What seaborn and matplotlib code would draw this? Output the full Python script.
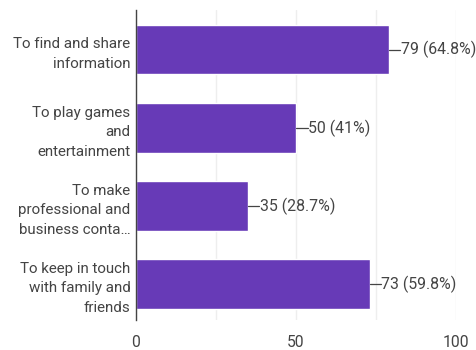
import matplotlib
matplotlib.use("Agg")
import matplotlib.pyplot as plt
import seaborn as sns
import pandas as pd

categories = [
    "To find and share\ninformation",
    "To play games\nand\nentertainment",
    "To make\nprofessional and\nbusiness conta\u2026",
    "To keep in touch\nwith family and\nfriends",
]
counts = [79, 50, 35, 73]
labels = ["79 (64.8%)", "50 (41%)", "35 (28.7%)", "73 (59.8%)"]
xticks = [0, 50, 100]

df = pd.DataFrame({"category": categories, "count": counts})

sns.set_theme(style="white")
plt.rcParams["font.family"] = ["Roboto", "DejaVu Sans"]

fig = plt.figure(figsize=(4.77, 3.5), dpi=100)
ax = fig.add_axes([0.285, 0.0857, 0.671, 0.8857])

sns.barplot(data=df, x="count", y="category", color="#673AB7", saturation=1,
            width=0.63, ax=ax, orient="h")

ax.set_xlim(0, 100)
ax.set_ylim(3.46, -0.51)
ax.set_xticks(xticks)
ax.set_xticks([25, 75], minor=True)
ax.grid(axis="x", which="both", color="#eeeeee", linewidth=1)
ax.set_axisbelow(True)
for s in ["top", "right", "bottom"]:
    ax.spines[s].set_visible(False)
ax.spines["left"].set_color("#444444")
ax.spines["left"].set_linewidth(1.0)
ax.set_xlabel("")
ax.set_ylabel("")
ax.tick_params(axis="both", length=0, labelcolor="#444444")
ax.tick_params(axis="x", pad=11, labelsize=11.3)
ax.tick_params(axis="y", pad=4, labelsize=10.9)
for t in ax.get_yticklabels():
    t.set_linespacing(1.5)

for i, (v, lab) in enumerate(zip(counts, labels)):
    ax.plot([v, v + 3.6], [i, i], color="#444444", linewidth=0.9, clip_on=False)
    ax.text(v + 3.7, i, lab, va="center", ha="left", fontsize=11.4, color="#444444")

fig.savefig("out.png", dpi=100)
